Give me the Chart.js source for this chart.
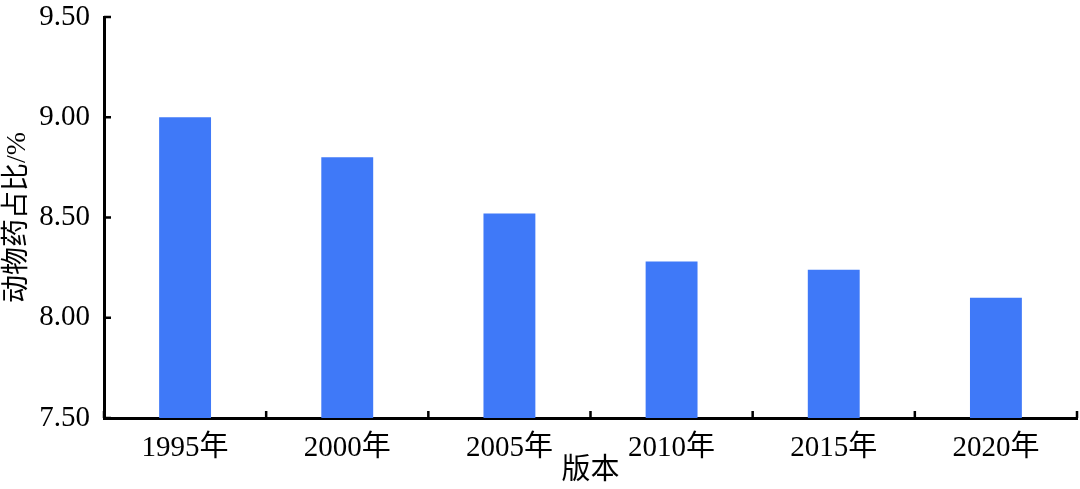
<!DOCTYPE html>
<html>
<head>
<meta charset="utf-8">
<script src="https://cdn.jsdelivr.net/npm/chart.js@4.4.0/dist/chart.umd.min.js"></script>
<style>
    html, body { margin: 0; padding: 0; background: #fff; }
    #wrap { width: 1080px; height: 489px; }
</style>
</head>
<body>
<div id="wrap"><canvas id="chart"></canvas></div>
<script>
// Data
const years = ['1995年', '2000年', '2005年', '2010年', '2015年', '2020年'];
const shares = [9.00, 8.80, 8.52, 8.28, 8.24, 8.10];
const yTicks = [7.5, 8.0, 8.5, 9.0, 9.5];

const SERIF = '"Liberation Serif", "Times New Roman", "Noto Sans CJK SC", serif';

// Small tick marks pointing into the plot, like the original figure
const inwardTicks = {
    id: 'inwardTicks',
    afterDraw(chart) {
        const { ctx, scales: { x, y } } = chart;
        ctx.save();
        ctx.strokeStyle = '#000';
        ctx.lineWidth = 2.5;
        ctx.beginPath();
        for (let i = 0; i <= years.length; i++) {
            const px = x.getPixelForValue(i - 0.5);
            ctx.moveTo(px, y.bottom);
            ctx.lineTo(px, y.bottom - 7);
        }
        yTicks.forEach(v => {
            const py = y.getPixelForValue(v);
            ctx.moveTo(x.left, py);
            ctx.lineTo(x.left + 7, py);
        });
        ctx.stroke();
        ctx.restore();
    }
};

const ctx = document.getElementById('chart').getContext('2d');
new Chart(ctx, {
    type: 'bar',
    data: {
        labels: years,
        datasets: [{
            data: shares,
            backgroundColor: '#3f79f8',
            borderWidth: 0,
            categoryPercentage: 1.0,
            barPercentage: 0.32
        }]
    },
    options: {
        responsive: true,
        maintainAspectRatio: false,
        animation: false,
        layout: { padding: { top: 17, right: 3, left: 1, bottom: 0 } },
        plugins: {
            legend: { display: false },
            tooltip: { enabled: false }
        },
        scales: {
            x: {
                offset: true,
                grid: { display: false },
                border: { color: '#000', width: 3 },
                ticks: {
                    color: '#000',
                    padding: 5,
                    font: { family: SERIF, size: 29 }
                },
                title: {
                    display: true,
                    text: '版本',
                    color: '#000',
                    padding: 0,
                    font: { family: SERIF, size: 29 }
                },
                afterFit(scale) { scale.height = 71; }
            },
            y: {
                min: 7.5,
                max: 9.5,
                grid: { display: false },
                border: { color: '#000', width: 3 },
                afterBuildTicks(scale) {
                    scale.ticks = yTicks.map(v => ({ value: v }));
                },
                ticks: {
                    color: '#000',
                    padding: 6,
                    font: { family: SERIF, size: 29 },
                    callback: value => Number(value).toFixed(2)
                },
                title: {
                    display: true,
                    text: '动物药占比/%',
                    color: '#000',
                    padding: 0,
                    font: { family: SERIF, size: 28 }
                },
                afterFit(scale) {
                    scale.width = 103;
                    scale.paddingTop = 0;
                    scale.paddingBottom = 0;
                }
            }
        }
    },
    plugins: [inwardTicks]
});
</script>
</body>
</html>
